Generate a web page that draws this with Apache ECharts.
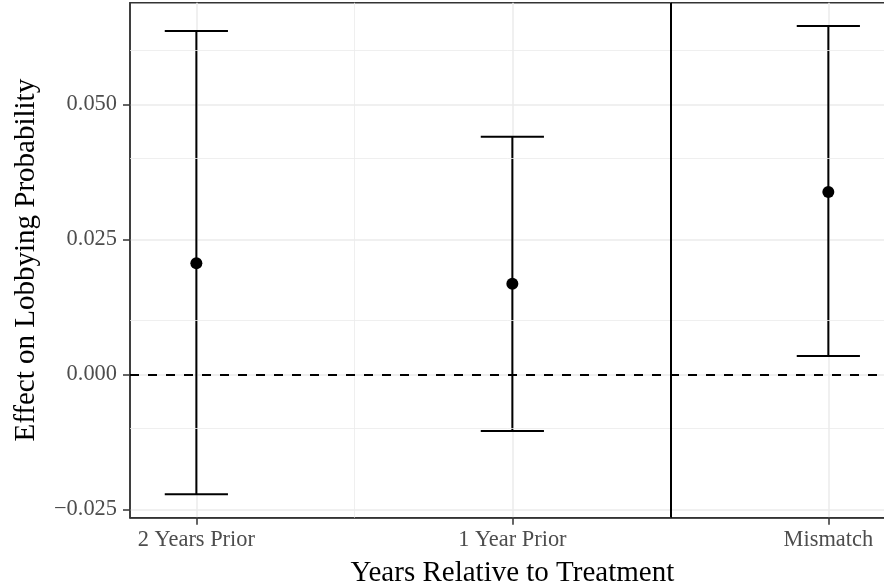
<!DOCTYPE html>
<html>
<head>
<meta charset="utf-8">
<title>Effect on Lobbying Probability</title>
<script src="https://cdn.jsdelivr.net/npm/echarts@6/dist/echarts.min.js"></script>
<style>
  html, body { margin: 0; padding: 0; background: #ffffff; }
  #chart { width: 884px; height: 586px; }
</style>
</head>
<body>
<div id="chart"></div>
<script>
// Estimates with confidence intervals, one per period
const categories = ['2 Years Prior', '1 Year Prior', 'Mismatch'];
const positions = [1, 2, 3];
const estimates = [0.0206, 0.0168, 0.0338];
const lowerBounds = [-0.0222, -0.0105, 0.0034];
const upperBounds = [0.0636, 0.0440, 0.0645];

// Axis breaks
const yTicks = [-0.025, 0, 0.025, 0.05];
const yMinorTicks = [-0.0125, 0.0125, 0.0375, 0.0625];
const xTicks = [1, 2, 3];
const xMinorTicks = [1.5, 2.5];

// Reference lines
const zeroLine = 0;
const dividerAt = 2.5;

// Half-width of the error bar caps, in x units
const capHalf = 0.1;

// Continuous limits padded by 5% of the data range on each side
const yLo = Math.min(...lowerBounds), yHi = Math.max(...upperBounds);
const yPad = 0.05 * (yHi - yLo);
const xLo = positions[0] - capHalf, xHi = positions[positions.length - 1] + capHalf;
const xPad = 0.05 * (xHi - xLo);

const serif = 'Liberation Serif, Times New Roman, serif';
const gridColor = '#ebebeb';
const inkColor = '#333333';

const fmtY = v => (v < 0 ? '\u2212' : '') + Math.abs(v).toFixed(3);

const barData = positions.map((p, i) => [p, lowerBounds[i], upperBounds[i]]);
const pointData = positions.map((p, i) => [p, estimates[i]]);

const chart = echarts.init(document.getElementById('chart'), null, { renderer: 'canvas' });

chart.setOption({
  animation: false,
  backgroundColor: '#ffffff',
  grid: {
    left: 130, top: 2.7, width: 764.7, height: 515,
    outerBoundsMode: 'none', containLabel: false,
    show: true, borderColor: inkColor, borderWidth: 1.5, backgroundColor: 'transparent'
  },
  xAxis: {
    type: 'value',
    min: xLo - xPad, max: xHi + xPad,
    name: 'Years Relative to Treatment',
    nameLocation: 'middle',
    nameGap: 41,
    nameTextStyle: { fontFamily: serif, fontSize: 29, color: '#000000' },
    axisLine: { show: true, onZero: false, lineStyle: { color: inkColor, width: 1.5 } },
    axisTick: { show: true, customValues: xTicks, length: 7, lineStyle: { color: inkColor, width: 1.5 } },
    axisLabel: {
      customValues: xTicks, margin: 11,
      fontFamily: serif, fontSize: 22.4, color: '#4d4d4d',
      formatter: v => categories[positions.indexOf(v)] || ''
    },
    splitLine: { show: true, lineStyle: { color: gridColor, width: 1.5 } }
  },
  yAxis: {
    type: 'value',
    min: yLo - yPad, max: yHi + yPad,
    name: 'Effect on Lobbying Probability',
    nameLocation: 'middle',
    nameGap: 89,
    nameTextStyle: { fontFamily: serif, fontSize: 29, color: '#000000' },
    axisLine: { show: true, onZero: false, lineStyle: { color: inkColor, width: 1.5 } },
    axisTick: { show: true, customValues: yTicks, length: 7, lineStyle: { color: inkColor, width: 1.5 } },
    axisLabel: {
      customValues: yTicks, margin: 13,
      fontFamily: serif, fontSize: 22.4, color: '#4d4d4d',
      formatter: fmtY
    },
    splitLine: { show: true, lineStyle: { color: gridColor, width: 1.5 } }
  },
  series: [
    {
      // minor grid lines
      type: 'line', data: [], z: 0, silent: true,
      markLine: {
        silent: true, symbol: 'none', label: { show: false },
        lineStyle: { color: gridColor, width: 0.8, type: 'solid' },
        data: yMinorTicks.map(v => ({ yAxis: v })).concat(xMinorTicks.map(v => ({ xAxis: v })))
      }
    },
    {
      // zero reference and period divider
      type: 'line', data: [], z: 1, silent: true,
      markLine: {
        silent: true, symbol: 'none', label: { show: false },
        data: [
          { yAxis: zeroLine, lineStyle: { color: '#000000', width: 2, type: [9, 9] } },
          { xAxis: dividerAt, lineStyle: { color: '#000000', width: 2, type: 'solid' } }
        ]
      }
    },
    {
      type: 'custom', z: 3, silent: true,
      data: barData,
      renderItem: (params, api) => {
        const x = api.value(0), lo = api.value(1), hi = api.value(2);
        const top = api.coord([x, hi]);
        const bot = api.coord([x, lo]);
        const left = api.coord([x - capHalf, hi])[0];
        const right = api.coord([x + capHalf, hi])[0];
        const style = { stroke: '#000000', lineWidth: 2, fill: null };
        return {
          type: 'group',
          children: [
            { type: 'line', shape: { x1: top[0], y1: top[1], x2: bot[0], y2: bot[1] }, style },
            { type: 'line', shape: { x1: left, y1: top[1], x2: right, y2: top[1] }, style },
            { type: 'line', shape: { x1: left, y1: bot[1], x2: right, y2: bot[1] }, style }
          ]
        };
      }
    },
    {
      type: 'scatter', z: 4, silent: true,
      data: pointData,
      symbol: 'circle', symbolSize: 12,
      itemStyle: { color: '#000000', opacity: 1 }
    }
  ]
});
</script>
</body>
</html>
